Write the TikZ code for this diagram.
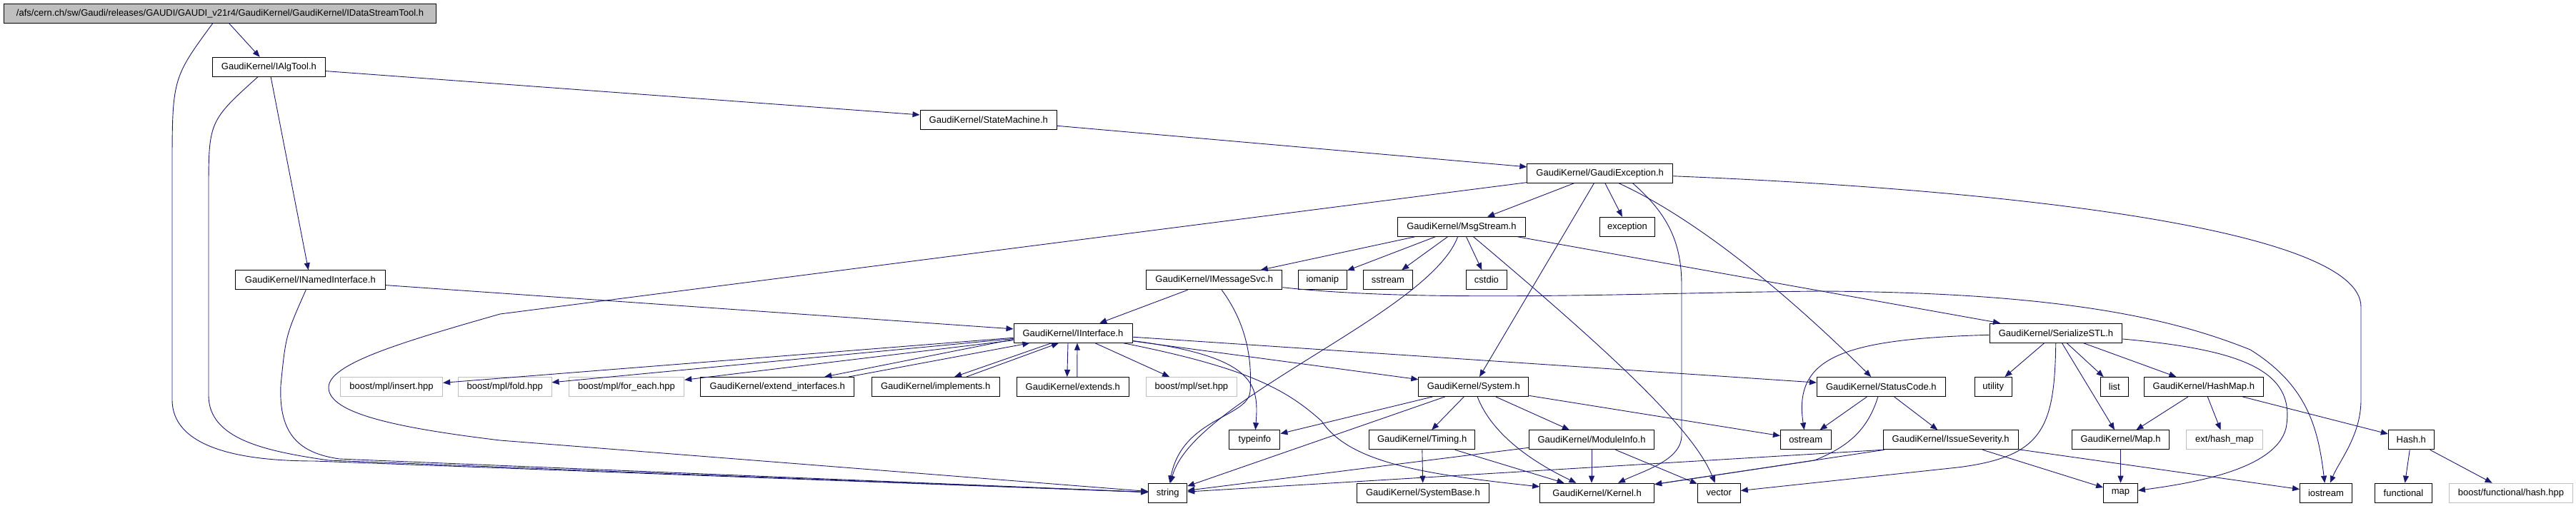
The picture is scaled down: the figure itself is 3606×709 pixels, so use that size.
\documentclass[tikz,border=0pt]{standalone}
\usepackage{fontspec}
\setmainfont{Liberation Sans}
\usepackage{tikz}
\usetikzlibrary{arrows.meta}
\definecolor{EdgeBlue}{HTML}{191970}
\definecolor{ExtGray}{HTML}{BFBFBF}
\definecolor{RootGray}{HTML}{BFBFBF}

\begin{document}
\begin{tikzpicture}[x=1pt, y=-1pt,
    file/.style={draw=black, line width=1pt, inner sep=0pt, minimum height=27pt, font=\fontsize{13}{15}\selectfont},
    extfile/.style={file, draw=ExtGray},
    dep/.style={-{Triangle[length=10pt, width=8pt]}, EdgeBlue, line width=0.9pt}
]
\useasboundingbox (0,0) rectangle (3606,709);

% Rows 1-5
\node[file, fill=RootGray, minimum width=605pt] (root) at (308,18.8) {/afs/cern.ch/sw/Gaudi/releases/GAUDI/GAUDI\_v21r4/GaudiKernel/GaudiKernel/IDataStreamTool.h};
\node[file, minimum width=158pt] (IAlgTool) at (376.4,93.8) {GaudiKernel/IAlgTool.h};
\node[file, minimum width=191.6pt] (StateMachine) at (1383.8,168) {GaudiKernel/StateMachine.h};
\node[file, minimum width=203.7pt] (GaudiException) at (2239.7,242.7) {GaudiKernel/GaudiException.h};
\node[file, minimum width=178.6pt] (MsgStream) at (2045.9,317.7) {GaudiKernel/MsgStream.h};
\node[file, minimum width=77.7pt] (exception) at (2278,317.7) {exception};

% Row 6
\node[file, minimum width=209.8pt] (INamedInterface) at (434.4,392.3) {GaudiKernel/INamedInterface.h};
\node[file, minimum width=190.3pt] (IMessageSvc) at (1699.8,392.3) {GaudiKernel/IMessageSvc.h};
\node[file, minimum width=68pt] (iomanip) at (1851.3,392.3) {iomanip};
\node[file, minimum width=68.3pt] (sstream) at (1942.9,392.3) {sstream};
\node[file, minimum width=56.6pt] (cstdio) at (2080.9,392.3) {cstdio};

% Row 7
\node[file, minimum width=166pt] (IInterface) at (1502,466.7) {GaudiKernel/IInterface.h};
\node[file, minimum width=185.7pt] (SerializeSTL) at (2878,466.7) {GaudiKernel/SerializeSTL.h};

% Row 8
\node[extfile, minimum width=143.3pt] (insert) at (548,542) {boost/mpl/insert.hpp};
\node[extfile, minimum width=130.5pt] (fold) at (706.8,542) {boost/mpl/fold.hpp};
\node[extfile, minimum width=161.3pt] (foreachhpp) at (877,542) {boost/mpl/for\_each.hpp};
\node[file, minimum width=215.3pt] (extendif) at (1088.3,542) {GaudiKernel/extend\_interfaces.h};
\node[file, minimum width=178.6pt] (implements) at (1309.7,542) {GaudiKernel/implements.h};
\node[file, minimum width=156.6pt] (extends) at (1501.8,542) {GaudiKernel/extends.h};
\node[extfile, minimum width=126.5pt] (mplset) at (1667.9,542) {boost/mpl/set.hpp};
\node[file, minimum width=154.1pt] (System) at (2062.8,542) {GaudiKernel/System.h};
\node[file, minimum width=179.9pt] (StatusCode) at (2633.3,542) {GaudiKernel/StatusCode.h};
\node[file, minimum width=51.8pt] (utility) at (2790.2,542) {utility};
\node[file, minimum width=38.4pt] (list) at (2959.8,542) {list};
\node[file, minimum width=166.5pt] (HashMap) at (3084.8,542) {GaudiKernel/HashMap.h};

% Row 9
\node[file, minimum width=70.9pt] (typeinfo) at (1756.4,616.3) {typeinfo};
\node[file, minimum width=148.5pt] (Timing) at (1990.6,616.3) {GaudiKernel/Timing.h};
\node[file, minimum width=175.3pt] (ModuleInfo) at (2228,616.3) {GaudiKernel/ModuleInfo.h};
\node[file, minimum width=70.6pt] (ostream) at (2527.7,616.3) {ostream};
\node[file, minimum width=188.8pt] (IssueSeverity) at (2730.6,616.3) {GaudiKernel/IssueSeverity.h};
\node[file, minimum width=136.2pt] (Map) at (2968.5,616.3) {GaudiKernel/Map.h};
\node[extfile, minimum width=107.1pt] (exthashmap) at (3114,616.3) {ext/hash\_map};
\node[file, minimum width=64pt] (Hash) at (3375.3,616.3) {Hash.h};

% Row 10
\node[file, minimum width=54pt] (string) at (1634.7,690.7) {string};
\node[file, minimum width=184.7pt] (SystemBase) at (1991.9,690.7) {GaudiKernel/SystemBase.h};
\node[file, minimum width=160pt] (Kernel) at (2235.6,690.7) {GaudiKernel/Kernel.h};
\node[file, minimum width=59.9pt] (vector) at (2406.3,690.7) {vector};
\node[file, minimum width=47.8pt] (map) at (2968.5,690.7) {map};
\node[file, minimum width=72.8pt] (iostream) at (3255.9,690.7) {iostream};
\node[file, minimum width=79.9pt] (functional) at (3364.5,690.7) {functional};
\node[extfile, minimum width=172.3pt] (bfhash) at (3514.9,690.7) {boost/functional/hash.hpp};

% Straight includes
\foreach \a/\b in {root/IAlgTool, IAlgTool/StateMachine, IAlgTool/INamedInterface,
    INamedInterface/IInterface, StateMachine/GaudiException, GaudiException/MsgStream,
    GaudiException/exception, GaudiException/System, MsgStream/IMessageSvc, MsgStream/iomanip,
    MsgStream/sstream, MsgStream/cstdio, MsgStream/SerializeSTL, IMessageSvc/IInterface,
    IInterface/insert, IInterface/fold, IInterface/foreachhpp, IInterface/mplset,
    IInterface/System, IInterface/StatusCode, System/typeinfo, System/string, System/Timing,
    System/ModuleInfo, System/ostream, Timing/SystemBase, Timing/Kernel, ModuleInfo/string,
    ModuleInfo/vector, StatusCode/ostream, StatusCode/IssueSeverity, IssueSeverity/Kernel,
    IssueSeverity/map, IssueSeverity/iostream, SerializeSTL/utility, SerializeSTL/Map,
    SerializeSTL/list, SerializeSTL/HashMap, HashMap/Map, HashMap/exthashmap, HashMap/Hash,
    Map/map, Hash/functional, Hash/bfhash}
    \draw[dep] (\a) -- (\b);

% Mutual includes around IInterface
\draw[dep] (IInterface.186) -- (extendif.12);
\draw[dep] (extendif.8) -- (IInterface.193);
\draw[dep] (IInterface.205) -- (implements.28);
\draw[dep] (implements.18) -- (IInterface.215);
\draw[dep] ([xshift=-7pt]IInterface.south) -- ([xshift=-8pt]extends.north);
\draw[dep] ([xshift=6pt]extends.north) -- ([xshift=6pt]IInterface.south);

% Long bends into string
\draw[dep] (root) .. controls (241,110) .. (241,240) -- (241,560) .. controls (241,625) and (330,646) .. (440,646) -- (string);
\draw[dep] (IAlgTool) .. controls (292,170) .. (292,270) -- (292,555) .. controls (293,615) and (370,632) .. (460,645) -- (string);
\draw[dep] (INamedInterface) .. controls (400,470) .. (393,540) .. controls (390,610) and (420,635) .. (475,643) -- (string);
\draw[dep] (GaudiException) -- (700,440) .. controls (560,480) and (460,510) .. (460,543) .. controls (460,580) and (560,600) .. (700,617) -- (string);
\draw[dep] (MsgStream) .. controls (2000,440) and (1670,560) .. (string);
\draw[dep] (IMessageSvc) .. controls (1750,460) and (1752,515) .. (1750,548) .. controls (1748,585) and (1655,585) .. (string);
\draw[dep] (IssueSeverity.south west) -- (string);

% GaudiException to the right
\draw[dep] (GaudiException.-28) .. controls (2360,300) and (2480,390) .. (StatusCode);
\draw[dep] (GaudiException.-17) .. controls (2335,300) and (2354,340) .. (2354,400) -- (2354,610) .. controls (2354,645) and (2300,660) .. (Kernel);
\draw[dep] (GaudiException) .. controls (2800,265) and (3305,320) .. (3305,430) -- (3305,560) .. controls (3305,610) and (3275,645) .. (iostream);
\draw[dep] (MsgStream) .. controls (2250,490) and (2370,600) .. (vector);
\draw[dep] (IMessageSvc) .. controls (2000,425) and (2300,410) .. (2550,408) .. controls (2900,410) and (3050,450) .. (3150,490) .. controls (3230,540) and (3245,600) .. (iostream);

% IInterface, System and StatusCode bends
\draw[dep] (IInterface) .. controls (1760,500) and (1762,540) .. (typeinfo);
\draw[dep] (IInterface) .. controls (1745,515) and (1800,545) .. (1850,590) .. controls (1890,650) and (2000,665) .. (Kernel);
\draw[dep] (System) .. controls (2085,600) and (2130,640) .. (Kernel);
\draw[dep] (ModuleInfo.south) -- (ModuleInfo.south |- Kernel.north);
\draw[dep] (StatusCode) .. controls (2615,600) and (2590,625) .. (2540,645) -- (Kernel);

% SerializeSTL bends
\draw[dep] (SerializeSTL) .. controls (2580,475) and (2510,500) .. (ostream);
\draw[dep] (SerializeSTL) .. controls (2876,600) and (2860,640) .. (2740,655) -- (vector);
\draw[dep] (SerializeSTL) .. controls (3140,490) and (3215,520) .. (3200,600) .. controls (3185,660) and (3060,678) .. (map);
\end{tikzpicture}
\end{document}
